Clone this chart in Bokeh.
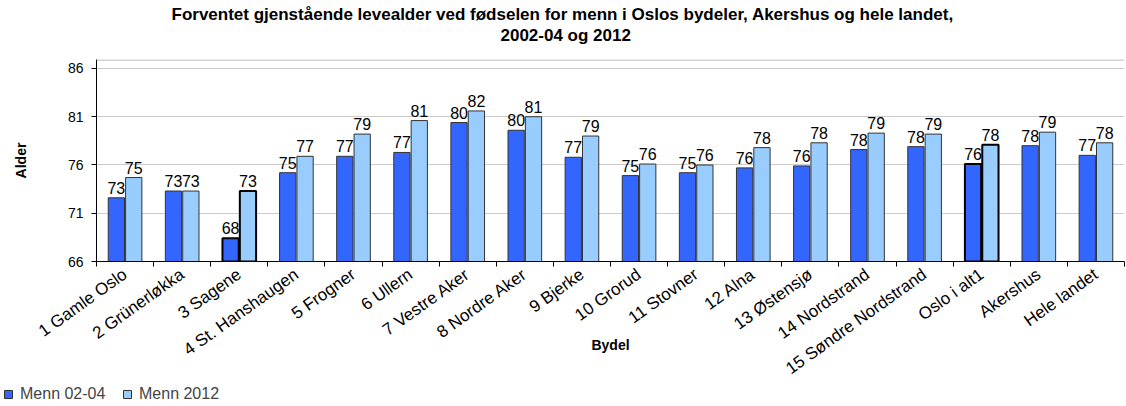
import math
import numpy as np
from bokeh.plotting import figure
from bokeh.layouts import column
from bokeh.models import ColumnDataSource, FixedTicker, Legend, LegendItem, Span, Range1d, Title
from bokeh.core.properties import value
from bokeh.embed import file_html
from bokeh.resources import INLINE

categories = ["1 Gamle Oslo", "2 Grünerløkka", "3 Sagene", "4 St. Hanshaugen", "5 Frogner",
              "6 Ullern", "7 Vestre Aker", "8 Nordre Aker", "9 Bjerke", "10 Grorud",
              "11 Stovner", "12 Alna", "13 Østensjø", "14 Nordstrand", "15 Søndre Nordstrand",
              "Oslo i alt1", "Akershus", "Hele landet"]
menn_0204 = [72.6, 73.3, 68.4, 75.2, 76.9, 77.3, 80.4, 79.6, 76.8, 74.9, 75.2, 75.7, 75.9,
             77.6, 77.9, 76.1, 78.0, 77.0]
menn_2012 = [74.7, 73.3, 73.3, 76.9, 79.2, 80.6, 81.6, 81.0, 79.0, 76.1, 76.0, 77.8, 78.3,
             79.3, 79.2, 78.1, 79.4, 78.3]
highlighted = ["3 Sagene", "Oslo i alt1"]
series_names = ["Menn 02-04", "Menn 2012"]
series_colors = ["#3366FF", "#99CCFF"]
y_ticks = [66, 71, 76, 81, 86]
title_lines = ["Forventet gjenstående levealder ved fødselen for menn i Oslos bydeler, Akershus og hele landet,",
               "2002-04 og 2012"]
y_label = "Alder"
x_label = "Bydel"

FONT = "Liberation Sans"
n = len(categories)
centers = np.arange(n) + 0.5
off = 0.152
bw = 0.285

hl = [c in highlighted for c in categories]
lw = [2 if h else 1 for h in hl]
lc = ["black" if h else "#333333" for h in hl]

src1 = ColumnDataSource(dict(x=centers - off, top=menn_0204, lw=lw, lc=lc,
                             label=[f"{v:.0f}" for v in menn_0204]))
src2 = ColumnDataSource(dict(x=centers + off, top=menn_2012, lw=lw, lc=lc,
                             label=[f"{v:.0f}" for v in menn_2012]))

p = figure(width=1126, height=386, output_backend="svg", toolbar_location=None, title=None,
           x_range=Range1d(0, n), y_range=Range1d(66, 86.93),
           min_border_left=96, min_border_right=2, min_border_top=59, min_border_bottom=125)
p.outline_line_color = None
p.background_fill_color = "white"
p.border_fill_color = "white"

p.vbar(x="x", top="top", bottom=66, width=bw, source=src1, fill_color=series_colors[0],
       line_color="lc", line_width="lw")
p.vbar(x="x", top="top", bottom=66, width=bw, source=src2, fill_color=series_colors[1],
       line_color="lc", line_width="lw")

for s in (src1, src2):
    p.text(x="x", y="top", text="label", source=s, text_align="center", text_baseline="bottom",
           y_offset=-4, text_font=value(FONT), text_font_size="16px", text_color="black")

# axes
xa = p.xaxis[0]
xa.ticker = FixedTicker(ticks=list(centers), minor_ticks=list(range(0, n + 1)))
xa.major_label_overrides = {float(c): name for c, name in zip(centers, categories)}
xa.major_label_orientation = 0.62
xa.major_tick_out = 0
xa.major_tick_in = 0
xa.minor_tick_out = 5
xa.minor_tick_in = 0
xa.minor_tick_line_color = "black"
xa.axis_line_color = "black"
xa.major_label_text_font = FONT
xa.major_label_text_font_size = "17px"
xa.major_label_text_color = "black"
xa.major_label_standoff = 6
xa.axis_label = x_label
xa.axis_label_text_font = FONT
xa.axis_label_text_font_style = "bold"
xa.axis_label_text_font_size = "14px"
xa.axis_label_text_color = "black"
xa.axis_label_standoff = -52

ya = p.yaxis[0]
ya.ticker = FixedTicker(ticks=y_ticks)
ya.major_tick_out = 5
ya.major_tick_in = 0
ya.minor_tick_line_color = None
ya.axis_line_color = "black"
ya.major_tick_line_color = "black"
ya.major_label_text_font = FONT
ya.major_label_text_font_size = "14px"
ya.major_label_text_color = "black"
ya.major_label_standoff = 8
ya.axis_label = y_label
ya.axis_label_text_font = FONT
ya.axis_label_text_font_style = "bold"
ya.axis_label_text_font_size = "14px"
ya.axis_label_text_color = "black"
ya.axis_label_standoff = 36

p.xgrid.visible = False
p.ygrid.grid_line_color = "#CCCCCC"
p.ygrid.ticker = FixedTicker(ticks=y_ticks[1:])
p.add_layout(Span(location=86.88, dimension="width", line_color="#A8A8A8", line_width=1))

# title: a small spacer next to the plot, then line 2, then line 1
spacer = Title(text=" ", text_font_size="8px", standoff=4, text_font=FONT)
t2 = Title(text=title_lines[1], align="left", offset=404, standoff=0, text_font=FONT,
           text_font_style="bold", text_font_size="17px", text_color="black")
t1 = Title(text=title_lines[0], align="left", offset=75, standoff=0, text_font=FONT,
           text_font_style="bold", text_font_size="17px", text_color="black")
p.add_layout(spacer, "above")
p.add_layout(t2, "above")
p.add_layout(t1, "above")

# legend strip below the chart (hidden copies of the bars give the swatches)
pl = figure(width=1126, height=20, output_backend="svg", toolbar_location=None, title=None,
            x_axis_type=None, y_axis_type=None, x_range=Range1d(0, n), y_range=Range1d(0, 1),
            min_border=0, min_border_left=0, min_border_right=0, min_border_top=0,
            min_border_bottom=0)
if "frame_align" in pl.properties():
    pl.frame_align = False
pl.outline_line_color = None
pl.grid.visible = False
lr1 = pl.vbar(x="x", top="top", bottom=66, width=bw, source=src1, fill_color=series_colors[0],
              line_color="#333333", line_width=1, visible=False)
lr2 = pl.vbar(x="x", top="top", bottom=66, width=bw, source=src2, fill_color=series_colors[1],
              line_color="#333333", line_width=1, visible=False)
legend = Legend(items=[LegendItem(label=series_names[0], renderers=[lr1]),
                       LegendItem(label=series_names[1], renderers=[lr2])],
                location=(3, 3), orientation="horizontal", glyph_width=10, glyph_height=10,
                label_text_font=FONT, label_text_font_size="16px", label_standoff=7, spacing=13,
                label_width=89, padding=0, margin=0, border_line_color=None,
                background_fill_alpha=0, label_height=12,
                inactive_fill_alpha=0)
pl.add_layout(legend)

open("out.html", "w").write(file_html(column(p, pl, spacing=0), INLINE))
